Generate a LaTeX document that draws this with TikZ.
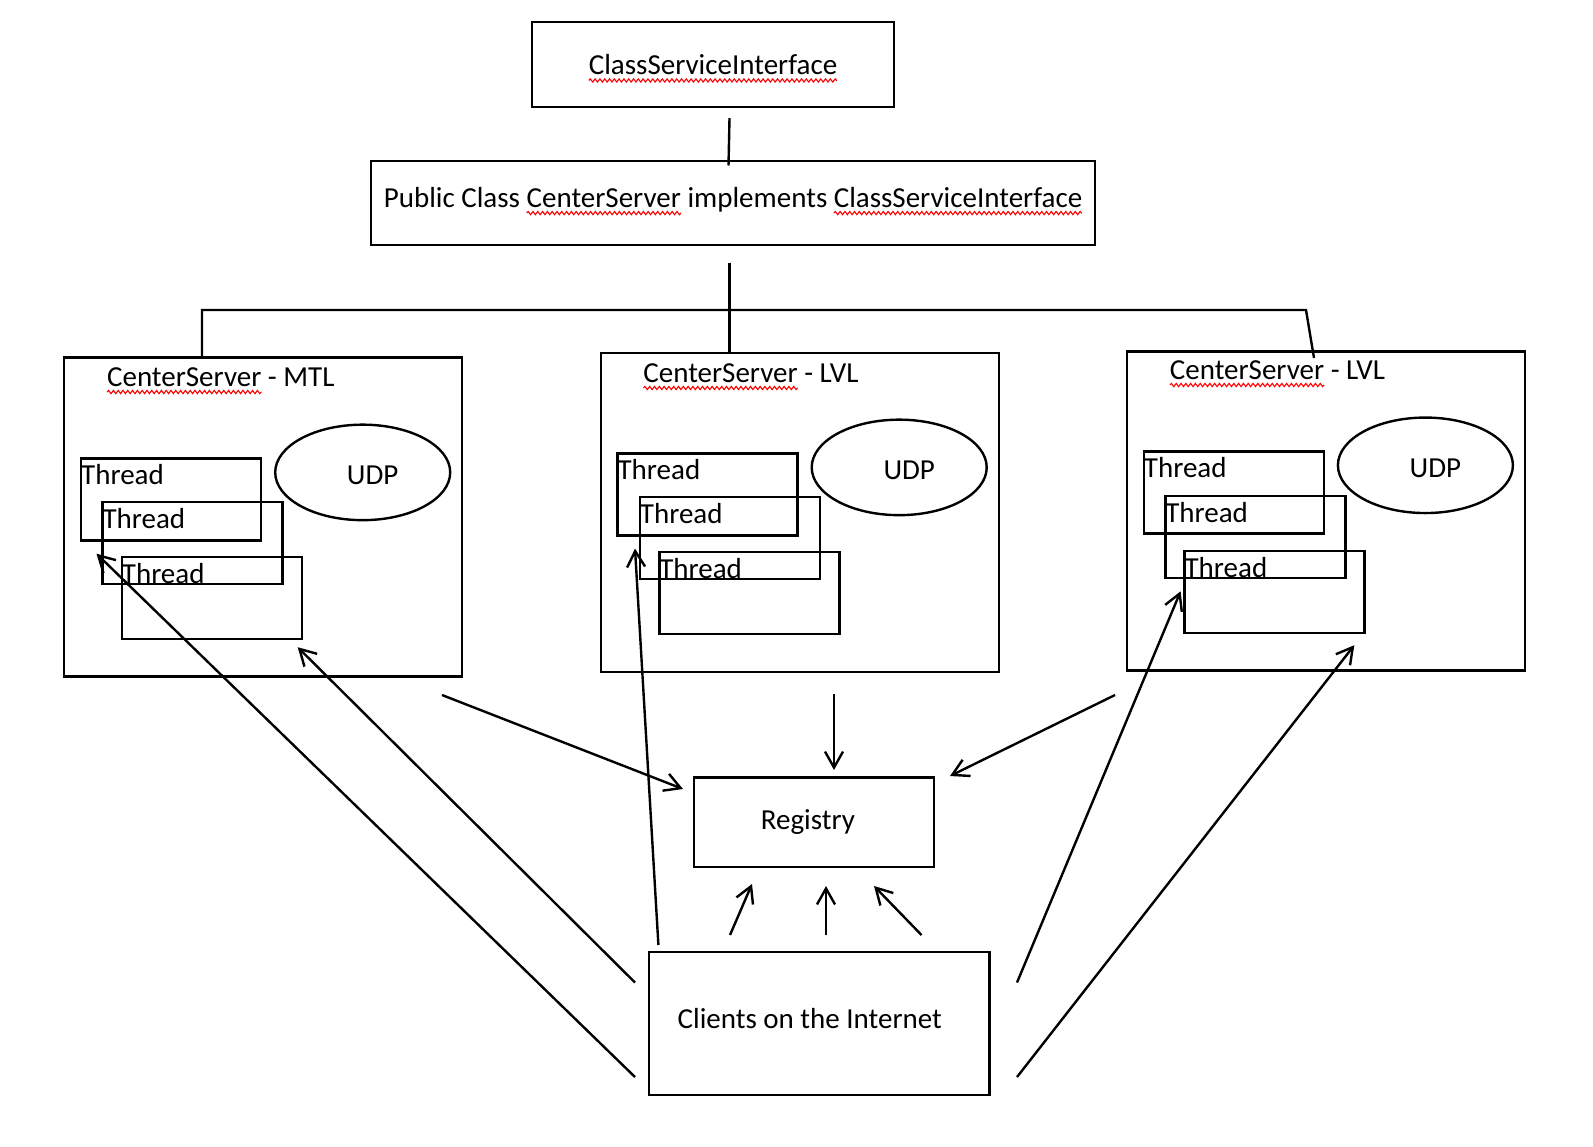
\documentclass[tikz,border=0pt]{standalone}
\usepackage{fontspec}
\setmainfont{Carlito}
\usetikzlibrary{shapes.geometric,arrows.meta,decorations.pathmorphing}
% red spell-check wave under a word
\newcommand\spellwave[1]{\setbox0\hbox{#1}\rlap{\tikz[overlay,x=1pt,y=1pt,line width=0.55pt]
  \draw[red,decorate,decoration={snake,amplitude=0.8pt,segment length=2.4pt}] (0,-3pt) -- (\the\wd0,-3pt);}\box0\relax}

\begin{document}
\begin{tikzpicture}[x=0.5pt,y=-0.5pt,line width=1.2pt,
    every node/.style={font=\fontsize{14.5}{17}\selectfont},
    >={Straight Barb[length=8pt,width=9pt]}]
  \tikzstyle{box}=[draw,rectangle,inner sep=0pt]
  \tikzstyle{server}=[box,minimum width=199pt,minimum height=159.5pt]
  \tikzstyle{thread}=[box,minimum width=90pt,minimum height=41pt,
    label={[anchor=north west,inner sep=0pt,yshift=-3pt]north west:Thread}]
  \tikzstyle{udp}=[draw,ellipse,inner sep=0pt,minimum width=87.5pt,minimum height=47.75pt,text height=12pt]
  \tikzstyle{title}=[anchor=base west,inner sep=0pt]
  \useasboundingbox (0,0) rectangle (1593,1146);

  \node[box,minimum width=181pt,minimum height=42.5pt] (csi) at (713,64.5) {\spellwave{ClassServiceInterface}};
  \node[box,minimum width=362pt,minimum height=42.25pt,text depth=6pt] (impl) at (733,203)
    {Public Class \spellwave{CenterServer} implements \spellwave{ClassServiceInterface}};

  % the three servers
  \node[server] (mtl)  at (263,517)  {};
  \node[server] (lvlA) at (800,512.6) {};
  \node[server] (lvlB) at (1326,511) {};
  \node[title] (mtlT)  at (106.7,386) {\spellwave{CenterServer} - MTL};
  \node[title] (lvlAT) at (643,382)   {\spellwave{CenterServer} - LVL};
  \node[title] (lvlBT) at (1169.5,379) {\spellwave{CenterServer} - LVL};

  \node[thread] (mtl1) at (171.2,499.4) {};
  \node[thread] (mtl2) at (192.5,543.1) {};
  \node[thread] (mtl3) at (211.9,597.9) {};
  \node[udp] (mtlU) at (362.7,472.4) {\hspace*{10pt}UDP};

  \node[thread] (lvlA1) at (707.6,494.3) {};
  \node[thread] (lvlA2) at (729.9,538) {};
  \node[thread] (lvlA3) at (749.3,592.9) {};
  \node[udp] (lvlAU) at (899.2,467.4) {\hspace*{10pt}UDP};

  \node[thread] (lvlB1) at (1233.9,492.3) {};
  \node[thread] (lvlB2) at (1255.3,537) {};
  \node[thread] (lvlB3) at (1274.6,591.9) {};
  \node[udp] (lvlBU) at (1425.4,465.3) {\hspace*{10pt}UDP};

  \node[box,minimum width=119.9pt,minimum height=44.7pt] (reg) at (813.9,822) {Registry\hspace*{6pt}};
  \node[box,minimum width=170.2pt,minimum height=71.6pt,text depth=5pt] (clients) at (819.4,1023.6)
    {Clients on the Internet\hspace*{9.6pt}};

  % hierarchy lines
  \coordinate (csiB) at (729.5,118);
  \coordinate (implT) at (728.5,165.5);
  \coordinate (busL) at (202,310);
  \coordinate (busM) at (729.5,310);
  \coordinate (busR) at (1306,310);
  \coordinate (lvlBtop) at (1314,358);
  \draw (csiB) -- (implT);
  \draw ([yshift=-8.5pt]impl.south -| busM) -- (busM |- lvlA.north);
  \draw (busL |- mtl.north) -- (busL) -- (busR) -- (lvlBtop);

  % servers -> registry
  \coordinate (mtlR)  at (442,695);   \coordinate (regW) at (683,789);
  \coordinate (lvlAR) at (834,694);   \coordinate (regN) at (834,770);
  \coordinate (lvlBR) at (1115,695);  \coordinate (regE) at (950,776);
  \draw[->] (mtlR) -- (regW);
  \draw[->] (lvlAR) -- (regN);
  \draw[->] (lvlBR) -- (regE);

  % clients -> registry
  \coordinate (cl1) at (730,935);  \coordinate (rg1) at (752,884);
  \coordinate (cl2) at (826,935);  \coordinate (rg2) at (826,886);
  \coordinate (cl3) at (921.5,935); \coordinate (rg3) at (874,886);
  \draw[->] (cl1) -- (rg1);
  \draw[->] (cl2) -- (rg2);
  \draw[->] (cl3) -- (rg3);

  % clients -> threads
  \coordinate (clW1) at (635,1077);  \coordinate (mtlIn1) at (96.5,553.7);
  \coordinate (clW2) at (635,982.5); \coordinate (mtlIn2) at (297.7,647.2);
  \coordinate (clN)  at (658.4,945); \coordinate (lvlAIn) at (635,548.6);
  \coordinate (clE1) at (1017,982.5); \coordinate (lvlBIn1) at (1180.6,591.3);
  \coordinate (clE2) at (1017,1077);  \coordinate (lvlBIn2) at (1354.3,645.2);
  \draw[->] (clW1) -- (mtlIn1);
  \draw[->] (clW2) -- (mtlIn2);
  \draw[->] (clN) -- (lvlAIn);
  \draw[->] (clE1) -- (lvlBIn1);
  \draw[->] (clE2) -- (lvlBIn2);
\end{tikzpicture}
\end{document}
